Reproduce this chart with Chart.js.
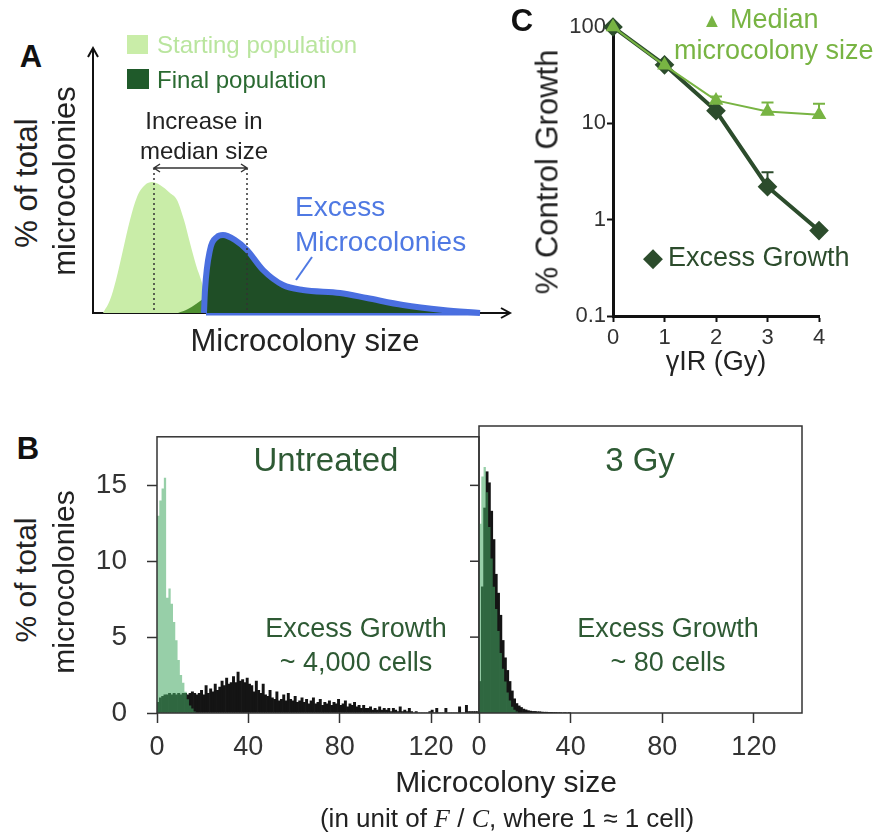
<!DOCTYPE html>
<html>
<head>
<meta charset="utf-8">
<script src="https://cdn.jsdelivr.net/npm/chart.js@4.4.0/dist/chart.umd.min.js"></script>
<style>
body { margin: 0; background: #fff; }
#fig { position: relative; width: 885px; height: 836px; overflow: hidden; font-family: 'Liberation Sans', Arial, sans-serif; color: #222; }
canvas { position: absolute; }
.t { position: absolute; white-space: nowrap; line-height: 1; transform: translate(-50%, -50%); }
.l { position: absolute; white-space: nowrap; line-height: 1; transform: translate(0, -50%); }
.r { transform: translate(-50%, -50%) rotate(-90deg); }
.b { font-weight: bold; color: #111; }
.sq { position: absolute; }
</style>
</head>
<body>
<div id="fig">
  <canvas id="chartA" width="470" height="300" style="left:60px;top:30px"></canvas>
  <canvas id="chartC" width="300" height="360" style="left:560px;top:0px"></canvas>
  <canvas id="chartB1" width="395" height="370" style="left:90px;top:400px"></canvas>
  <canvas id="chartB2" width="345" height="370" style="left:470px;top:400px"></canvas>

  <!-- panel A text -->
  <div class="t b" style="left:31px;top:56px;font-size:31px">A</div>
  <div class="sq" style="left:127px;top:35px;width:21px;height:19px;background:#c9eda8"></div>
  <div class="sq" style="left:127px;top:69px;width:22px;height:20px;background:#1f5a2a"></div>
  <div class="l" style="left:157px;top:45px;font-size:24px;color:#b9e59e">Starting population</div>
  <div class="l" style="left:157px;top:80px;font-size:24px;color:#2a6a31">Final population</div>
  <div class="t" style="left:204px;top:121px;font-size:24px">Increase in</div>
  <div class="t" style="left:204px;top:151px;font-size:24px">median size</div>
  <div class="l" style="left:295px;top:207px;font-size:28px;color:#4f79e3">Excess</div>
  <div class="l" style="left:295px;top:242px;font-size:28px;color:#4f79e3">Microcolonies</div>
  <div class="t r" style="left:26px;top:183px;font-size:31px">% of total</div>
  <div class="t r" style="left:64px;top:181px;font-size:31px">microcolonies</div>
  <div class="t" style="left:305px;top:340px;font-size:31px">Microcolony size</div>

  <!-- panel C text -->
  <div class="t b" style="left:522px;top:20px;font-size:31px">C</div>
  <div class="t" style="left:712px;top:20px;font-size:20px;color:#78b443">&#9650;</div>
  <div class="l" style="left:730px;top:19px;font-size:27px;color:#78b443">Median</div>
  <div class="l" style="left:674px;top:50px;font-size:27px;color:#78b443">microcolony size</div>
  <div class="t" style="left:653px;top:257px;font-size:26px;color:#2c4c2c">&#9670;</div>
  <div class="l" style="left:668px;top:257px;font-size:27px;color:#2c4c2c">Excess Growth</div>
  <div class="t r" style="left:547px;top:172px;font-size:31px">% Control Growth</div>
  <div class="t" style="left:716px;top:361px;font-size:27px">&gamma;IR (Gy)</div>

  <!-- panel B text -->
  <div class="t b" style="left:28px;top:448px;font-size:31px">B</div>
  <div class="t" style="left:326px;top:459px;font-size:33px;color:#2e5a34">Untreated</div>
  <div class="t" style="left:640px;top:459px;font-size:33px;color:#2e5a34">3 Gy</div>
  <div class="t" style="left:356px;top:628px;font-size:27px;color:#2e5a34">Excess Growth</div>
  <div class="t" style="left:356px;top:662px;font-size:27px;color:#2e5a34">~ 4,000 cells</div>
  <div class="t" style="left:668px;top:628px;font-size:27px;color:#2e5a34">Excess Growth</div>
  <div class="t" style="left:668px;top:662px;font-size:27px;color:#2e5a34">~ 80 cells</div>
  <div class="t r" style="left:26px;top:580px;font-size:30px">% of total</div>
  <div class="t r" style="left:64px;top:582px;font-size:30px">microcolonies</div>
  <div class="t" style="left:506px;top:782px;font-size:30px">Microcolony size</div>
  <div class="t" style="left:507px;top:818px;font-size:26px">(in unit of <i style="font-family:'Liberation Serif',serif">F</i> / <i style="font-family:'Liberation Serif',serif">C</i>, where 1 &asymp; 1 cell)</div>
</div>

<script>
Chart.defaults.font.family = "'Liberation Sans', Arial, sans-serif";
Chart.defaults.color = '#222';
Chart.defaults.animation = false;
Chart.defaults.plugins.legend.display = false;
Chart.defaults.plugins.tooltip.enabled = false;

// ---- panel A: schematic distributions (arbitrary units) ----
const startX = [10, 17, 23, 30, 37, 44, 52, 59, 67, 77, 84, 91, 97, 103, 109, 115, 121];
const startY = [0, 13, 33, 63, 93, 116, 128, 131, 128, 120, 113, 93, 70, 48, 30, 6, 0];
const tailX = [85, 95, 103, 110, 115, 119];
const tailY = [0, 4, 9, 14, 17, 0];
const finalX = [111, 112, 117, 124, 130, 142, 154, 170, 190, 210, 247, 274, 310, 350, 387];
const finalY = [0, 23, 63, 76, 78, 73, 63, 43, 28, 23, 20, 15, 8, 3, 0];
const medians = [61, 154];
const medianArrowY = 145;

// ---- panel C: % control growth vs dose ----
const doses = [0, 1, 2, 3, 4];
const medianSize = [100, 40, 17.3, 13.3, 12.3];
const medianErrUp = [0, 0, 1.7, 3.2, 3.7];
const excessGrowth = [100, 40.5, 13.5, 2.2, 0.77];
const excessErrUp = [0, 0, 0, 0.9, 0];
const logTicks = [0.1, 1, 10, 100];

// ---- panel B: histograms, 1-unit bins starting at 0 ----
const sizeTicks = [0, 40, 80, 120];
const pctTicks = [0, 5, 10, 15];
const untreatedStart = [3.5, 13, 14, 14.8, 15.5, 7.6, 8.2, 7.2, 6, 4.8, 3.5, 2.5, 2, 1.4, 0.9, 0.5, 0.3, 0.1];
const untreatedFinal = [
  0.7, 1.0, 1.1, 1.2, 1.2, 1.3, 1.2, 1.3, 1.2, 1.3, 1.2, 1.3, 1.3, 1.2, 1.3, 1.4, 1.3, 1.2,
  1.3, 1.5, 1.2, 1.8, 1.3, 1.6, 1.4, 1.9, 1.5, 1.7, 2.1, 1.8, 2.3, 1.9, 2.0, 2.4, 2.0, 2.7, 2.1, 2.2, 2.0, 2.3, 1.9,
  1.8, 1.4, 2.1, 1.5, 1.3, 1.9, 1.2, 1.1, 1.5, 1.0, 0.9, 1.4, 0.8, 0.9, 1.2, 0.8, 1.3, 0.9, 0.8, 1.1,
  0.7, 0.8, 1.0, 0.7, 0.9, 0.6, 0.8, 1.0, 0.6, 0.7, 0.9, 0.5, 0.7, 0.6, 0.8, 0.5, 0.7, 0.6, 0.9, 0.5,
  0.6, 0.8, 0.4, 0.6, 0.5, 0.7, 0.4, 0.5, 0.3, 0.5, 0.3, 0.3, 0.4, 0.2, 0.3, 0.2, 0.4, 0.2, 0.3, 0.2,
  0.3, 0.1, 0.3, 0.2, 0.1, 0.4, 0.1, 0.2, 0.1, 0.3, 0.1, 0, 0.1, 0, 0, 0, 0, 0, 0.1, 0.2,
  0, 0.3, 0, 0, 0, 0.3, 0, 0, 0, 0, 0, 0.4, 0, 0, 0.5, 0.1, 0.1, 0.1, 0.1, 0.1
];
const gy3Start = [5, 12, 15, 15.6, 14, 11.8, 9.8, 8, 6.6, 5.2, 3.8, 2.8, 2, 1.3, 0.8, 0.4, 0.2, 0.1];
const gy3Final = [
  2, 8, 13, 15.3, 14.6, 12.8, 11, 8.8, 7.6, 6.2, 4.6, 3.5, 2.7, 2.0, 1.4, 0.9, 0.6, 0.45, 0.35, 0.25,
  0.2, 0.15, 0.12, 0.1, 0.1, 0.08, 0.08, 0.06, 0.05, 0.05, 0.04, 0.04, 0.03, 0.03, 0.02, 0.02, 0, 0.02, 0, 0.02
];

const pts = (xs, ys) => xs.map((x, i) => ({x: x, y: ys[i]}));
const bins = vals => vals.map((v, i) => ({x: i + 0.5, y: v}));
// step outline of a histogram: one point per bin left edge, closed at the last right edge
const steps = vals => vals.map((v, i) => ({x: i, y: v})).concat([{x: vals.length, y: 0}]);

// panel A
const schematic = {
  id: 'schematic',
  beforeDatasetsDraw(chart) {
    const {ctx, scales: {x, y}} = chart;
    const x0 = x.getPixelForValue(0), y0 = y.getPixelForValue(0);
    const xe = x.getPixelForValue(x.max), ye = y.getPixelForValue(y.max);
    ctx.save();
    ctx.strokeStyle = '#111';
    ctx.lineWidth = 2;
    ctx.beginPath();
    ctx.moveTo(x0, y0); ctx.lineTo(x0, ye + 1);
    ctx.moveTo(x0 - 1, y0); ctx.lineTo(xe - 1, y0);
    ctx.stroke();
    ctx.beginPath();
    ctx.moveTo(x0 - 5, ye + 9); ctx.lineTo(x0, ye); ctx.lineTo(x0 + 5, ye + 9);
    ctx.moveTo(xe - 9, y0 - 5); ctx.lineTo(xe, y0); ctx.lineTo(xe - 9, y0 + 5);
    ctx.stroke();
    ctx.restore();
  },
  afterDatasetsDraw(chart) {
    const {ctx, scales: {x, y}} = chart;
    const ya = y.getPixelForValue(medianArrowY), y0 = y.getPixelForValue(0);
    const xa = x.getPixelForValue(medians[0]), xb = x.getPixelForValue(medians[1]);
    ctx.save();
    ctx.strokeStyle = '#333';
    ctx.lineWidth = 1.5;
    ctx.setLineDash([2, 3]);
    ctx.beginPath();
    ctx.moveTo(xa, ya); ctx.lineTo(xa, y0);
    ctx.moveTo(xb, ya); ctx.lineTo(xb, y0);
    ctx.stroke();
    ctx.setLineDash([]);
    ctx.beginPath();
    ctx.moveTo(xa, ya); ctx.lineTo(xb, ya);
    ctx.moveTo(xa + 6, ya - 4); ctx.lineTo(xa, ya); ctx.lineTo(xa + 6, ya + 4);
    ctx.moveTo(xb - 6, ya - 4); ctx.lineTo(xb, ya); ctx.lineTo(xb - 6, ya + 4);
    ctx.stroke();
    // pointer from label to the excess area
    ctx.strokeStyle = '#4f79e3';
    ctx.lineWidth = 2;
    ctx.beginPath();
    ctx.moveTo(x.getPixelForValue(219), y.getPixelForValue(56));
    ctx.lineTo(x.getPixelForValue(203), y.getPixelForValue(33));
    ctx.stroke();
    ctx.restore();
  }
};

new Chart(document.getElementById('chartA'), {
  type: 'line',
  data: {
    datasets: [
      {label: 'Excess', data: pts(finalX, finalY), fill: 'origin', backgroundColor: '#1f4e26',
       borderColor: '#4a6fe0', borderWidth: 6, borderJoinStyle: 'round', pointRadius: 0,
       cubicInterpolationMode: 'monotone', clip: false},
      {label: 'Excess base', data: pts([113, 387], [0, 0]), fill: false, borderColor: '#4a6fe0',
       borderWidth: 5, pointRadius: 0, clip: false},
      {label: 'Overlap', data: pts(tailX, tailY), fill: 'origin', backgroundColor: '#4e8f30',
       borderWidth: 0, pointRadius: 0, cubicInterpolationMode: 'monotone'},
      {label: 'Starting population', data: pts(startX, startY), fill: 'origin', backgroundColor: '#c9eda8',
       borderWidth: 0, pointRadius: 0, cubicInterpolationMode: 'monotone'}
    ]
  },
  options: {
    responsive: false,
    layout: {padding: {left: 33, top: 18, right: 20, bottom: 17}},
    scales: {
      x: {type: 'linear', display: false, min: 0, max: 417},
      y: {display: false, min: 0, max: 265}
    }
  },
  plugins: [schematic]
});

// panel C
const errorBars = {
  id: 'errorBars',
  afterDatasetsDraw(chart) {
    const {ctx} = chart;
    const yS = chart.scales.y;
    chart.data.datasets.forEach((ds, di) => {
      const meta = chart.getDatasetMeta(di);
      ds.errUp.forEach((e, i) => {
        if (!e) return;
        const p = meta.data[i];
        const top = yS.getPixelForValue(ds.data[i].y + e);
        ctx.save();
        ctx.strokeStyle = ds.borderColor;
        ctx.lineWidth = 2;
        ctx.beginPath();
        ctx.moveTo(p.x, p.y); ctx.lineTo(p.x, top);
        ctx.moveTo(p.x - 6, top); ctx.lineTo(p.x + 6, top);
        ctx.stroke();
        ctx.restore();
      });
    });
  }
};

const axisC = {
  grid: {drawOnChartArea: false, tickLength: 6, color: '#111', tickWidth: 2},
  border: {display: true, width: 3, color: '#111'}
};

new Chart(document.getElementById('chartC'), {
  type: 'line',
  data: {
    datasets: [
      {label: 'Median microcolony size', data: pts(doses, medianSize), errUp: medianErrUp,
       borderColor: '#78b443', backgroundColor: '#78b443', borderWidth: 2,
       pointStyle: 'triangle', pointRadius: 6.5, clip: false},
      {label: 'Excess Growth', data: pts(doses, excessGrowth), errUp: excessErrUp,
       borderColor: '#2c4c2c', backgroundColor: '#2c4c2c', borderWidth: 4,
       pointStyle: 'rectRot', pointRadius: 7, clip: false}
    ]
  },
  options: {
    responsive: false,
    layout: {padding: {top: 27, right: 41, left: 0, bottom: 0}},
    scales: {
      x: Object.assign({type: 'linear', min: 0, max: 4,
        ticks: {stepSize: 1, font: {size: 22}, color: '#333', padding: 3},
        afterFit: s => { s.height = 44; }}, axisC),
      y: Object.assign({type: 'logarithmic', min: 0.1, max: 100,
        afterBuildTicks: s => { s.ticks = logTicks.map(v => ({value: v})); },
        ticks: {font: {size: 22}, color: '#333', padding: 1, callback: v => String(v)},
        afterFit: s => { s.width = 53; }}, axisC)
    }
  },
  plugins: [errorBars]
});

// panel B
const frame = {
  id: 'frame',
  afterDraw(chart, args, opts) {
    const {ctx, chartArea: a} = chart;
    ctx.save();
    ctx.strokeStyle = '#333';
    ctx.lineWidth = 1.5;
    ctx.strokeRect(a.left, a.top, a.right - a.left, a.bottom - a.top);
    (opts.innerTicks || []).forEach(v => {
      const py = chart.scales.y.getPixelForValue(v);
      ctx.beginPath();
      ctx.moveTo(a.right - 9, py); ctx.lineTo(a.right, py);
      ctx.stroke();
    });
    ctx.restore();
  }
};

function histogram(id, startVals, finalVals, showY, padLeft, padRight) {
  const y = showY ? {
    min: 0, max: 18.2,
    afterBuildTicks: s => { s.ticks = pctTicks.map(v => ({value: v})); },
    ticks: {font: {size: 28}, color: '#333', padding: 20},
    grid: {drawOnChartArea: false, tickLength: 10, color: '#333', tickWidth: 1.5},
    border: {display: false},
    afterFit: s => { s.width = 67; }
  } : {display: false, min: 0, max: 18.2};
  return new Chart(document.getElementById(id), {
    type: 'bar',
    data: {
      datasets: [
        {type: 'line', label: 'Starting population', data: steps(startVals), stepped: 'after',
         fill: 'origin', backgroundColor: 'rgba(70,170,100,0.56)', borderWidth: 0, pointRadius: 0},
        {label: 'Final population', data: bins(finalVals), backgroundColor: '#141414'}
      ]
    },
    options: {
      responsive: false,
      grouped: false,
      barPercentage: 1,
      categoryPercentage: 1,
      borderWidth: 0,
      layout: {padding: {top: 26, right: padRight, left: padLeft, bottom: 0}},
      plugins: {frame: {innerTicks: showY ? [5, 10, 15] : []}},
      scales: {
        x: {
          type: 'linear', min: 0, max: 141, offset: false,
          afterBuildTicks: s => { s.ticks = sizeTicks.map(v => ({value: v})); },
          ticks: {font: {size: 27}, color: '#333', padding: 8},
          grid: {drawOnChartArea: false, tickLength: 10, color: '#333', tickWidth: 1.5, offset: false},
          border: {display: false},
          afterFit: s => { s.height = 57; s.paddingLeft = 0; s.paddingRight = 0; }
        },
        y: y
      }
    },
    plugins: [frame]
  });
}

histogram('chartB1', untreatedStart, untreatedFinal, true, 0, 6);
histogram('chartB2', gy3Start, gy3Final, false, 9, 13);
</script>
</body>
</html>
